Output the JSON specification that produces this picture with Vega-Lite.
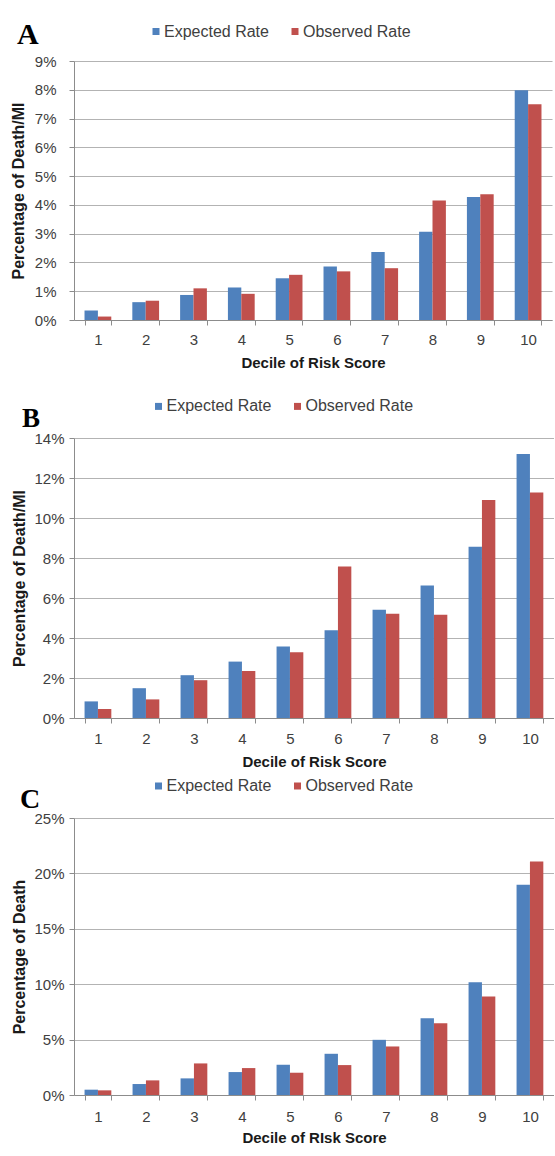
{
  "$schema": "https://vega.github.io/schema/vega-lite/v6.json",
  "padding": {"left": 10, "top": 19, "right": 0, "bottom": 0},
  "background": "white",
  "data": {"values": [
    {"panel": "A", "decile": 1, "series": "Expected Rate", "value": 0.33},
    {"panel": "A", "decile": 2, "series": "Expected Rate", "value": 0.62},
    {"panel": "A", "decile": 3, "series": "Expected Rate", "value": 0.87},
    {"panel": "A", "decile": 4, "series": "Expected Rate", "value": 1.13},
    {"panel": "A", "decile": 5, "series": "Expected Rate", "value": 1.45},
    {"panel": "A", "decile": 6, "series": "Expected Rate", "value": 1.86},
    {"panel": "A", "decile": 7, "series": "Expected Rate", "value": 2.36},
    {"panel": "A", "decile": 8, "series": "Expected Rate", "value": 3.07},
    {"panel": "A", "decile": 9, "series": "Expected Rate", "value": 4.27},
    {"panel": "A", "decile": 10, "series": "Expected Rate", "value": 7.98},
    {"panel": "A", "decile": 1, "series": "Observed Rate", "value": 0.12},
    {"panel": "A", "decile": 2, "series": "Observed Rate", "value": 0.67},
    {"panel": "A", "decile": 3, "series": "Observed Rate", "value": 1.10},
    {"panel": "A", "decile": 4, "series": "Observed Rate", "value": 0.91},
    {"panel": "A", "decile": 5, "series": "Observed Rate", "value": 1.57},
    {"panel": "A", "decile": 6, "series": "Observed Rate", "value": 1.69},
    {"panel": "A", "decile": 7, "series": "Observed Rate", "value": 1.80},
    {"panel": "A", "decile": 8, "series": "Observed Rate", "value": 4.15},
    {"panel": "A", "decile": 9, "series": "Observed Rate", "value": 4.37},
    {"panel": "A", "decile": 10, "series": "Observed Rate", "value": 7.50},
    {"panel": "B", "decile": 1, "series": "Expected Rate", "value": 0.83},
    {"panel": "B", "decile": 2, "series": "Expected Rate", "value": 1.49},
    {"panel": "B", "decile": 3, "series": "Expected Rate", "value": 2.14},
    {"panel": "B", "decile": 4, "series": "Expected Rate", "value": 2.82},
    {"panel": "B", "decile": 5, "series": "Expected Rate", "value": 3.57},
    {"panel": "B", "decile": 6, "series": "Expected Rate", "value": 4.39},
    {"panel": "B", "decile": 7, "series": "Expected Rate", "value": 5.41},
    {"panel": "B", "decile": 8, "series": "Expected Rate", "value": 6.62},
    {"panel": "B", "decile": 9, "series": "Expected Rate", "value": 8.56},
    {"panel": "B", "decile": 10, "series": "Expected Rate", "value": 13.2},
    {"panel": "B", "decile": 1, "series": "Observed Rate", "value": 0.45},
    {"panel": "B", "decile": 2, "series": "Observed Rate", "value": 0.93},
    {"panel": "B", "decile": 3, "series": "Observed Rate", "value": 1.89},
    {"panel": "B", "decile": 4, "series": "Observed Rate", "value": 2.35},
    {"panel": "B", "decile": 5, "series": "Observed Rate", "value": 3.29},
    {"panel": "B", "decile": 6, "series": "Observed Rate", "value": 7.58},
    {"panel": "B", "decile": 7, "series": "Observed Rate", "value": 5.21},
    {"panel": "B", "decile": 8, "series": "Observed Rate", "value": 5.16},
    {"panel": "B", "decile": 9, "series": "Observed Rate", "value": 10.9},
    {"panel": "B", "decile": 10, "series": "Observed Rate", "value": 11.28},
    {"panel": "C", "decile": 1, "series": "Expected Rate", "value": 0.48},
    {"panel": "C", "decile": 2, "series": "Expected Rate", "value": 0.99},
    {"panel": "C", "decile": 3, "series": "Expected Rate", "value": 1.50},
    {"panel": "C", "decile": 4, "series": "Expected Rate", "value": 2.07},
    {"panel": "C", "decile": 5, "series": "Expected Rate", "value": 2.73},
    {"panel": "C", "decile": 6, "series": "Expected Rate", "value": 3.72},
    {"panel": "C", "decile": 7, "series": "Expected Rate", "value": 4.98},
    {"panel": "C", "decile": 8, "series": "Expected Rate", "value": 6.93},
    {"panel": "C", "decile": 9, "series": "Expected Rate", "value": 10.18},
    {"panel": "C", "decile": 10, "series": "Expected Rate", "value": 18.97},
    {"panel": "C", "decile": 1, "series": "Observed Rate", "value": 0.42},
    {"panel": "C", "decile": 2, "series": "Observed Rate", "value": 1.32},
    {"panel": "C", "decile": 3, "series": "Observed Rate", "value": 2.85},
    {"panel": "C", "decile": 4, "series": "Observed Rate", "value": 2.43},
    {"panel": "C", "decile": 5, "series": "Observed Rate", "value": 2.01},
    {"panel": "C", "decile": 6, "series": "Observed Rate", "value": 2.70},
    {"panel": "C", "decile": 7, "series": "Observed Rate", "value": 4.38},
    {"panel": "C", "decile": 8, "series": "Observed Rate", "value": 6.48},
    {"panel": "C", "decile": 9, "series": "Observed Rate", "value": 8.89},
    {"panel": "C", "decile": 10, "series": "Observed Rate", "value": 21.07}
  ]},
  "vconcat": [
    {
      "width": 478, "height": 259,
      "title": {"text": "A", "fontSize": 30, "dx": -57, "dy": 30},
      "transform": [{"filter": "datum.panel === 'A'"}],
      "mark": {"type": "bar"},
      "encoding": {
        "x": {"field": "decile", "type": "ordinal", "scale": {"paddingInner": 0.44, "paddingOuter": 0.22},
              "axis": {"title": "Decile of Risk Score", "labelPadding": 7, "titlePadding": 8}},
        "xOffset": {"field": "series", "sort": ["Expected Rate", "Observed Rate"]},
        "y": {"field": "value", "type": "quantitative", "scale": {"domain": [0, 9], "nice": false},
              "axis": {"title": "Percentage of Death/MI", "values": [0, 1, 2, 3, 4, 5, 6, 7, 8, 9], "labelExpr": "datum.value + '%'", "labelPadding": 13, "titlePadding": 8}},
        "color": {"field": "series", "scale": {"domain": ["Expected Rate", "Observed Rate"], "range": ["#4F81BD", "#C0504D"]},
                  "legend": {"legendX": 74, "legendY": -37.5}}
      }
    },
    {
      "vconcat": [
        {
          "width": 480, "height": 280,
          "title": {"text": "B", "fontSize": 27, "dx": -52, "dy": 39},
          "transform": [{"filter": "datum.panel === 'B'"}],
          "mark": {"type": "bar"},
          "encoding": {
            "x": {"field": "decile", "type": "ordinal", "scale": {"paddingInner": 0.44, "paddingOuter": 0.22},
                  "axis": {"title": "Decile of Risk Score", "labelPadding": 8, "titlePadding": 8}},
            "xOffset": {"field": "series", "sort": ["Expected Rate", "Observed Rate"]},
            "y": {"field": "value", "type": "quantitative", "scale": {"domain": [0, 14], "nice": false},
                  "axis": {"title": "Percentage of Death/MI", "values": [0, 2, 4, 6, 8, 10, 12, 14], "labelExpr": "datum.value + '%'", "labelPadding": 5, "titlePadding": 6}},
            "color": {"field": "series", "scale": {"domain": ["Expected Rate", "Observed Rate"], "range": ["#4F81BD", "#C0504D"]},
                      "legend": {"legendX": 76.5, "legendY": -39.6}}
          }
        },
        {
          "width": 480, "height": 277,
          "title": {"text": "C", "fontSize": 28, "dx": -54, "dy": 40},
          "transform": [{"filter": "datum.panel === 'C'"}],
          "mark": {"type": "bar"},
          "encoding": {
            "x": {"field": "decile", "type": "ordinal", "scale": {"paddingInner": 0.44, "paddingOuter": 0.22},
                  "axis": {"title": "Decile of RIsk Score", "labelPadding": 9, "titlePadding": 6}},
            "xOffset": {"field": "series", "sort": ["Expected Rate", "Observed Rate"]},
            "y": {"field": "value", "type": "quantitative", "scale": {"domain": [0, 25], "nice": false},
                  "axis": {"title": "Percentage of Death", "values": [0, 5, 10, 15, 20, 25], "labelExpr": "datum.value + '%'", "labelPadding": 5, "titlePadding": 6}},
            "color": {"field": "series", "scale": {"domain": ["Expected Rate", "Observed Rate"], "range": ["#4F81BD", "#C0504D"]},
                      "legend": {"legendX": 76.5, "legendY": -40}}
          }
        }
      ],
      "spacing": 9,
      "resolve": {"scale": {"color": "independent"}, "legend": {"color": "independent"}}
    }
  ],
  "spacing": 28,
  "resolve": {"scale": {"color": "independent"}, "legend": {"color": "independent"}},
  "config": {
    "font": "Liberation Sans",
    "view": {"stroke": null},
    "title": {"font": "Liberation Serif", "fontWeight": "bold", "color": "#000000", "anchor": "start", "frame": "group"},
    "axis": {"labelFont": "Liberation Sans", "labelFontSize": 15, "labelColor": "#404040",
             "titleFont": "Liberation Sans", "titleFontSize": 15, "titleFontWeight": "bold", "titleColor": "#1a1a1a",
             "domainColor": "#8c8c8c", "tickColor": "#8c8c8c", "gridColor": "#b3b3b3", "tickSize": 5},
    "axisX": {"grid": false, "tickBand": "extent", "labelAngle": 0},
    "axisY": {"grid": true, "titleFontSize": 16},
    "legend": {"orient": "none", "direction": "horizontal", "title": null, "symbolType": "square", "symbolSize": 49,
               "symbolStrokeWidth": 0, "labelFont": "Liberation Sans", "labelFontSize": 16, "labelColor": "#404040",
               "labelOffset": 0, "columnPadding": 18},
    "bar": {"stroke": null}
  }
}
